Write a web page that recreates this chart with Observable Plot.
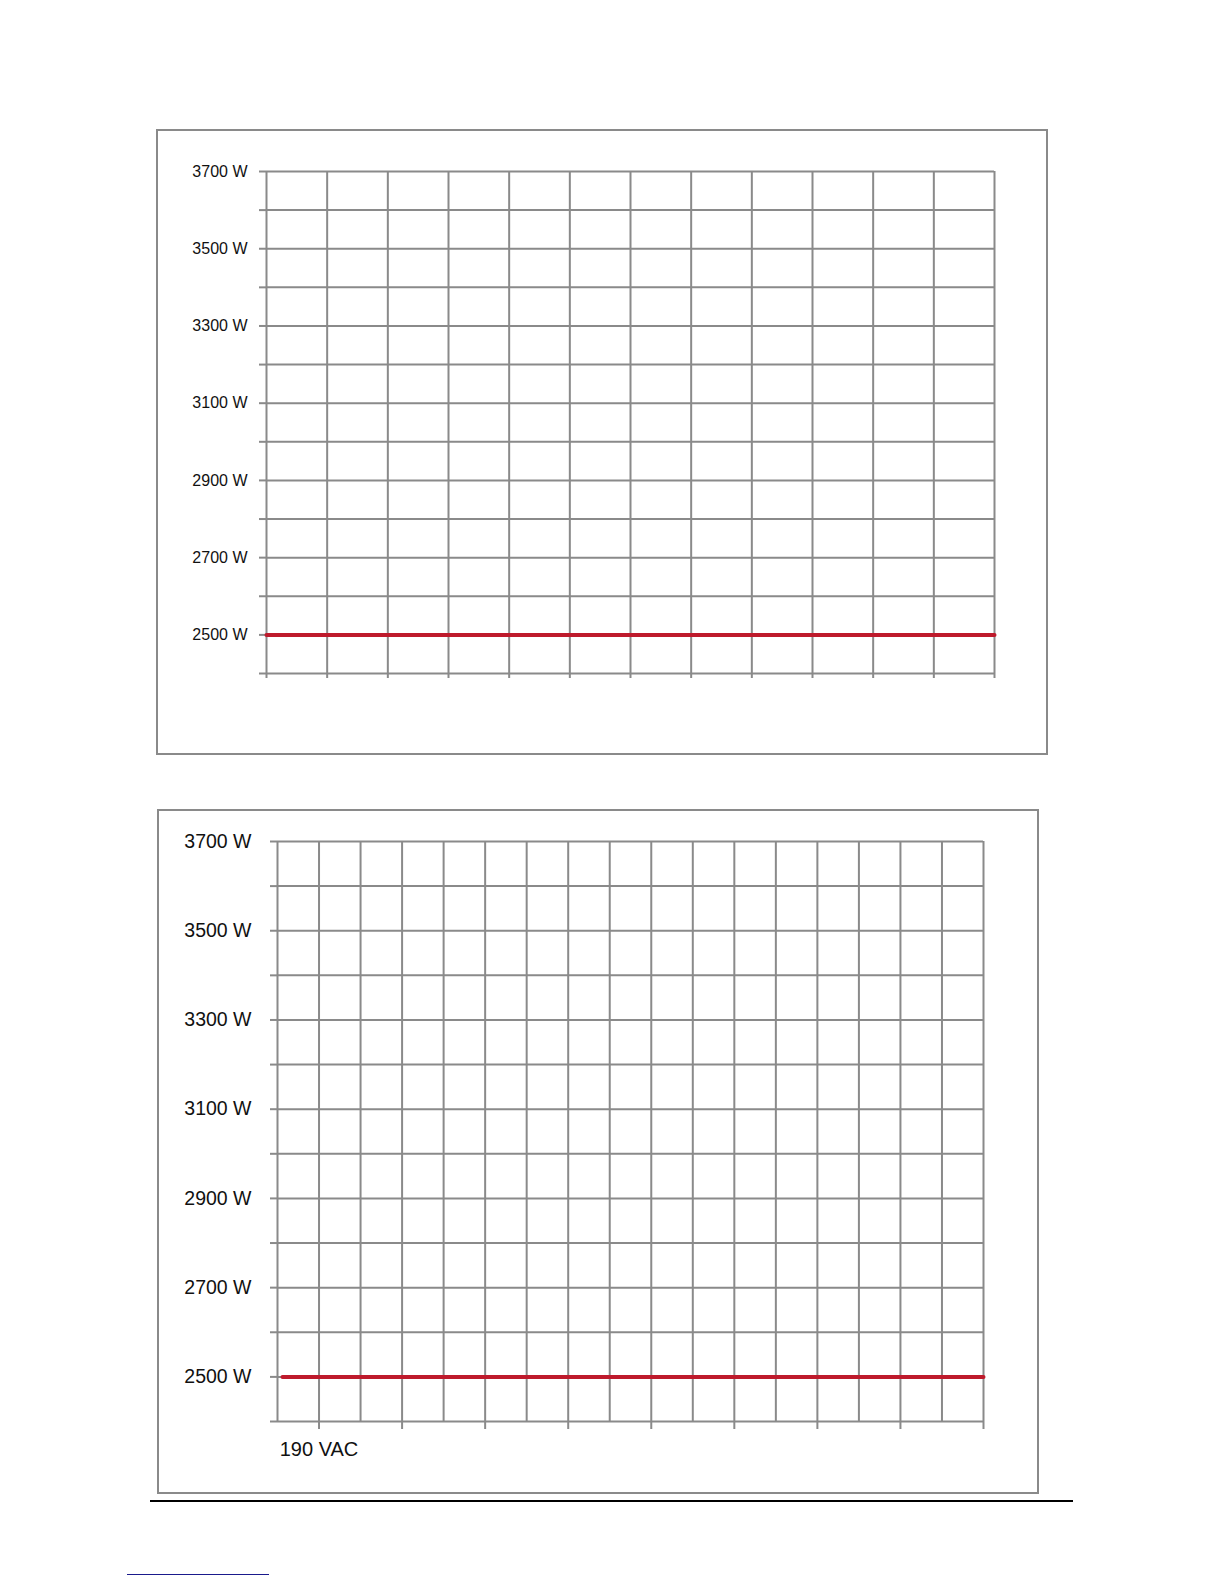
<!DOCTYPE html>
<html>
<head>
<meta charset="utf-8">
<script src="https://cdn.jsdelivr.net/npm/d3@7"></script>
<script src="https://cdn.jsdelivr.net/npm/@observablehq/plot@0.6"></script>
<style>
  html, body { margin: 0; padding: 0; background: #fff; }
  body { width: 1224px; height: 1584px; position: relative; font-family: "Liberation Sans", Arial, sans-serif; }
  .panel { position: absolute; }
  .panel svg { display: block; outline: 2px solid #8a8a8a; outline-offset: -1px; background: #fff; }
  .rule { position: absolute; left: 150px; top: 1500px; width: 923px; height: 0; border-top: 2px solid #000; }
  .link { position: absolute; left: 127px; top: 1574px; width: 142px; height: 0; border-top: 1px solid #1a1a8c; }
</style>
</head>
<body>
<div id="top" class="panel" style="left:157px; top:130px;"></div>
<div id="bottom" class="panel" style="left:158px; top:810px;"></div>
<div class="rule"></div>
<div class="link"></div>
<script>
// ---- data ----
const wattTicks = [2400, 2500, 2600, 2700, 2800, 2900, 3000, 3100, 3200, 3300, 3400, 3500, 3600, 3700];
const wattLabels = [2500, 2700, 2900, 3100, 3300, 3500, 3700];

// top chart: 12 unlabeled columns
const topGridX = [0, 1, 2, 3, 4, 5, 6, 7, 8, 9, 10, 11, 12];
const topLineX = [0, 12];
const topLineW = [2500, 2500];

// bottom chart: input voltage (VAC)
const bottomGridX = [185, 190, 195, 200, 205, 210, 215, 220, 225, 230, 235, 240, 245, 250, 255, 260, 265, 270];
const bottomTicksX = [190, 200, 210, 220, 230, 240, 250, 260, 270];
const bottomTickLabels = {190: "190 VAC"};
const bottomLineX = [185.6, 270];
const bottomLineW = [2500, 2500];

const GRID = "#8a8a8a";
const RED = "#be1a2c";

function series(xs, ys) { return xs.map((x, i) => ({x, y: ys[i]})); }
const yFmt = d => wattLabels.includes(d) ? `${d} W` : "";

const topPlot = Plot.plot({
  width: 890, height: 624,
  marginLeft: 109, marginRight: 53, marginTop: 41, marginBottom: 81,
  style: {fontFamily: "Liberation Sans, Arial, sans-serif", fontSize: "16px", color: "#111", background: "#fff", overflow: "visible"},
  x: {domain: [0, 12], axis: null},
  y: {domain: [2400, 3700], axis: null},
  marks: [
    Plot.gridX(topGridX, {stroke: GRID, strokeOpacity: 1, strokeWidth: 2}),
    Plot.gridY(wattTicks, {stroke: GRID, strokeOpacity: 1, strokeWidth: 2}),
    Plot.axisY(wattTicks, {tickSize: 7, tickPadding: 12, stroke: GRID, strokeWidth: 2, tickFormat: yFmt, label: null, fontSize: 16}),
    Plot.axisX(topGridX, {tickSize: 5, stroke: GRID, strokeWidth: 2, tickFormat: () => "", label: null}),
    Plot.line(series(topLineX, topLineW), {x: "x", y: "y", stroke: RED, strokeWidth: 4})
  ]
});
document.getElementById("top").append(topPlot);

const bottomPlot = Plot.plot({
  width: 880, height: 683,
  marginLeft: 119, marginRight: 55, marginTop: 31, marginBottom: 72,
  style: {fontFamily: "Liberation Sans, Arial, sans-serif", fontSize: "19px", color: "#111", background: "#fff", overflow: "visible"},
  x: {domain: [185, 270], axis: null},
  y: {domain: [2400, 3700], axis: null},
  marks: [
    Plot.gridX(bottomGridX, {stroke: GRID, strokeOpacity: 1, strokeWidth: 2}),
    Plot.gridY(wattTicks, {stroke: GRID, strokeOpacity: 1, strokeWidth: 2}),
    Plot.axisY(wattTicks, {tickSize: 7, tickPadding: 19, stroke: GRID, strokeWidth: 2, tickFormat: yFmt, label: null, fontSize: 19.5}),
    Plot.axisX(bottomTicksX, {tickSize: 8, tickPadding: 12, stroke: GRID, strokeWidth: 2, tickFormat: d => bottomTickLabels[d] ?? "", label: null, fontSize: 20}),
    Plot.line(series(bottomLineX, bottomLineW), {x: "x", y: "y", stroke: RED, strokeWidth: 4})
  ]
});
document.getElementById("bottom").append(bottomPlot);
</script>
</body>
</html>
